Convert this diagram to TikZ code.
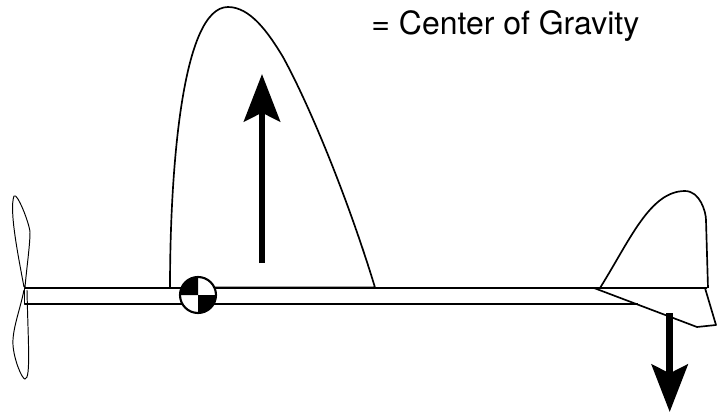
\documentclass[tikz,border=0pt]{standalone}
\usepackage{fontspec}
\setmainfont{TeX Gyre Heros}
\usetikzlibrary{arrows.meta}
\tikzset{
  outline/.style={line width=0.95pt, line join=round},
  thinline/.style={line width=0.55pt},
  force/.style={line width=3.9pt, -{Stealth[length=27pt, width=20.5pt, inset=5pt]}},
  cgmark/.style={circle, draw, fill=white, line width=1.2pt, minimum size=0.72cm, inner sep=0pt, outer sep=0pt}
}
\begin{document}
\begin{tikzpicture}[x=0.02cm, y=-0.02cm, every node/.style={font=\fontsize{18.2}{21}\selectfont}]
  \useasboundingbox (0, 0) rectangle (718, 416);
  % propeller
  \draw[thinline] (24, 287) .. controls (18, 255) and (9, 210) .. (14, 196)
    .. controls (17, 192) and (29, 222) .. (30, 232)
    .. controls (30, 245) and (27, 265) .. (25, 287);
  \draw[thinline] (24, 290) .. controls (20, 310) and (12, 330) .. (13, 345)
    .. controls (14, 360) and (22, 379) .. (25, 379)
    .. controls (31, 379) and (28, 340) .. (27, 290);
  % fuselage
  \draw[outline] (638, 304) -- (24.5, 304) -- (24.5, 288) -- (707, 288);
  % wing
  \draw[outline] (170, 288) .. controls (170, 170) and (182, 7) .. (228, 7)
    .. controls (250, 7) and (268, 32) .. (283, 57)
    .. controls (312, 110) and (350, 205) .. (375, 287.5) -- (198, 287.5);
  % tail
  \draw[outline] (600, 288) .. controls (630, 240) and (650, 191) .. (685, 191)
    .. controls (700, 191) and (706, 212) .. (706, 220) -- (708, 288);
  \draw[outline] (594, 288) -- (697, 327) -- (716, 325) -- (705, 288);
  % forces
  \coordinate (liftbase) at (262, 263);
  \coordinate (lifttip) at (262, 74);
  \coordinate (dragbase) at (669.7, 313);
  \coordinate (dragtip) at (669.7, 412);
  \draw[force] (liftbase) -- (lifttip);
  \draw[force] (dragbase) -- (dragtip);
  % center of gravity mark
  \node[cgmark] (cg) at (198, 295) {};
  \fill (cg.center) -- (cg.north) arc[start angle=90, end angle=180, radius=0.36cm] -- cycle;
  \fill (cg.center) -- (cg.south) arc[start angle=270, end angle=360, radius=0.36cm] -- cycle;
  \node[anchor=base west, inner sep=0pt] (cglabel) at (371, 34) {= Center of Gravity};
\end{tikzpicture}
\end{document}
